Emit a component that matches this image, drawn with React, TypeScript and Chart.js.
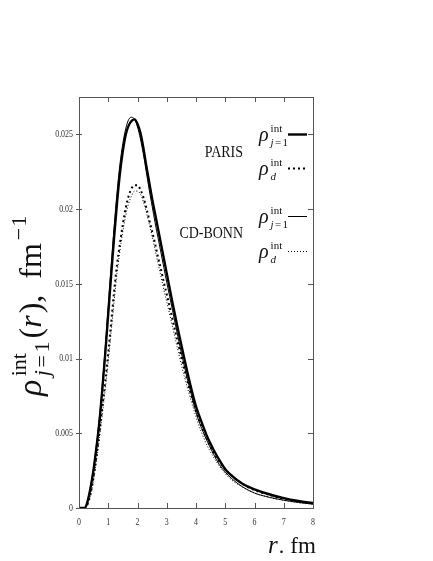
import React, { useEffect, useRef } from "react";
import { Chart, registerables } from "chart.js";

Chart.register(...registerables);

const rValues = [
  0, 0.1, 0.2, 0.3, 0.4, 0.5, 0.6, 0.7, 0.8, 0.9, 1.0, 1.1, 1.2, 1.3, 1.4, 1.5, 1.6, 1.7, 1.8, 1.9,
  2.0, 2.1, 2.2, 2.3, 2.4, 2.5, 2.6, 2.7, 2.8, 2.9, 3.0, 3.2, 3.4, 3.6, 3.8, 4.0, 4.2, 4.4, 4.6, 4.8,
  5.0, 5.2, 5.6, 6.0, 6.5, 7.0, 7.5, 8.0,
];

const parisJ1 = [
  0, 0, 0, 0.0005, 0.0014, 0.0026, 0.0041, 0.0058, 0.008, 0.0104, 0.013, 0.0156, 0.0181, 0.0204, 0.0224, 0.0239, 0.025, 0.0256, 0.0259, 0.026,
  0.0257, 0.0251, 0.0241, 0.0229, 0.0218, 0.0207, 0.0197, 0.0187, 0.0177, 0.0167, 0.0157, 0.0137, 0.0118, 0.01, 0.0083, 0.0068, 0.0057, 0.0047, 0.0039, 0.0032,
  0.0026, 0.0022, 0.0016, 0.00125, 0.00092, 0.00066, 0.00047, 0.00033,
];

const parisD = [
  0, 0, 0, 0.0003, 0.001, 0.0021, 0.0035, 0.0051, 0.0068, 0.0085, 0.0104, 0.0124, 0.0145, 0.0163, 0.0177, 0.019, 0.0201, 0.0209, 0.0214, 0.0216,
  0.0216, 0.0213, 0.0208, 0.0201, 0.0193, 0.0185, 0.0177, 0.0168, 0.016, 0.0151, 0.0143, 0.0126, 0.0109, 0.0093, 0.0078, 0.0065, 0.0054, 0.0045, 0.0037, 0.0031,
  0.0026, 0.0022, 0.0016, 0.0012, 0.00088, 0.00062, 0.00044, 0.0003,
];

const bonnJ1 = [
  0, 0, 0, 0.0005, 0.0015, 0.0027, 0.0043, 0.0061, 0.0083, 0.0108, 0.0135, 0.0162, 0.0188, 0.0211, 0.023, 0.0244, 0.0254, 0.026, 0.02615, 0.026,
  0.0255, 0.0247, 0.0237, 0.0225, 0.0213, 0.0202, 0.0191, 0.0181, 0.0171, 0.0161, 0.0151, 0.0132, 0.0113, 0.0095, 0.0079, 0.0064, 0.0053, 0.0044, 0.0036, 0.0029,
  0.0024, 0.002, 0.0014, 0.001, 0.00072, 0.00052, 0.00037, 0.00026,
];

const bonnD = [
  0, 0, 0, 0.0003, 0.0009, 0.0019, 0.0032, 0.0047, 0.0063, 0.008, 0.0098, 0.0118, 0.0138, 0.0157, 0.0172, 0.0185, 0.0196, 0.0204, 0.0209, 0.0212,
  0.0212, 0.021, 0.0205, 0.0198, 0.019, 0.0182, 0.0173, 0.0164, 0.0155, 0.0146, 0.0138, 0.0121, 0.0104, 0.0088, 0.0074, 0.0061, 0.005, 0.0041, 0.0034, 0.0028,
  0.0023, 0.0019, 0.0014, 0.001, 0.00072, 0.00051, 0.00036, 0.00025,
];

const xTicks = [0, 1, 2, 3, 4, 5, 6, 7, 8];
const xTickLabels = ["0", "1", "2", "3", "4", "5", "6", "7", "8"];
const yTicks = [0, 0.005, 0.01, 0.015, 0.02, 0.025];
const yTickLabels = ["0", "0.005", "0.01", "0.015", "0.02", "0.025"];

const groupNames = ["PARIS", "CD-BONN"];

const SERIF = "'Liberation Serif', 'DejaVu Serif', serif";

function toPoints(ys: number[]) {
  return rValues.map((x, i) => ({ x, y: ys[i] }));
}

function condensedText(ctx: CanvasRenderingContext2D, text: string, x: number, y: number, sx: number, align: CanvasTextAlign) {
  ctx.save();
  ctx.translate(x, y);
  ctx.scale(sx, 1);
  ctx.textAlign = align;
  ctx.fillText(text, 0, 0);
  ctx.restore();
}

// draws a sequence of text pieces; returns end x
function pieces(ctx: CanvasRenderingContext2D, x: number, y: number, parts: Array<[string, string, number]>) {
  let cx = x;
  parts.forEach(([t, font, gap]) => {
    ctx.font = font;
    ctx.fillText(t, cx, y);
    cx += ctx.measureText(t).width + gap;
  });
  return cx;
}

// rho with "int" superscript and a subscript; returns advance
function drawRho(ctx: CanvasRenderingContext2D, x: number, y: number, size: number, ss: number, sub: "j=1" | "d") {
  ctx.textAlign = "left";
  ctx.textBaseline = "alphabetic";
  ctx.font = `italic ${size}px ${SERIF}`;
  ctx.fillText("ρ", x, y);
  const w = ctx.measureText("ρ").width;
  const sx = x + w + size * 0.1;
  ctx.font = `${ss}px ${SERIF}`;
  ctx.fillText("int", sx, y - size * 0.45);
  const wInt = ctx.measureText("int").width;
  let endSub: number;
  if (sub === "j=1") {
    endSub = pieces(ctx, sx, y + size * 0.24, [
      ["j", `italic ${ss}px ${SERIF}`, ss * 0.12],
      ["=", `${ss}px ${SERIF}`, ss * 0.12],
      ["1", `${ss}px ${SERIF}`, 0],
    ]);
  } else {
    endSub = pieces(ctx, sx, y + size * 0.24, [["d", `italic ${ss}px ${SERIF}`, 0]]);
  }
  return Math.max(sx + wInt, endSub) - x;
}

const decorPlugin = {
  id: "decor",
  afterDraw(chart: any) {
    const ctx: CanvasRenderingContext2D = chart.ctx;
    const { left, right, top, bottom } = chart.chartArea;
    const xs = chart.scales.x;
    const ys = chart.scales.y;
    ctx.save();
    // frame
    ctx.strokeStyle = "#555";
    ctx.lineWidth = 1;
    ctx.strokeRect(Math.round(left) + 0.5, Math.round(top) + 0.5, Math.round(right - left), Math.round(bottom - top));
    // ticks
    ctx.beginPath();
    xTicks.forEach((v) => {
      const px = Math.round(xs.getPixelForValue(v)) + 0.5;
      ctx.moveTo(px, bottom);
      ctx.lineTo(px, bottom - 5);
      ctx.moveTo(px, top);
      ctx.lineTo(px, top + 5);
    });
    yTicks.forEach((v) => {
      const py = Math.round(ys.getPixelForValue(v)) + 0.5;
      ctx.moveTo(left - 3, py);
      ctx.lineTo(left + 3, py);
      ctx.moveTo(right, py);
      ctx.lineTo(right - 5, py);
    });
    ctx.stroke();
    // tick labels
    ctx.fillStyle = "#333";
    ctx.font = `11px ${SERIF}`;
    ctx.textBaseline = "middle";
    yTicks.forEach((v, i) => {
      condensedText(ctx, yTickLabels[i], left - 6, ys.getPixelForValue(v), 0.72, "right");
    });
    xTicks.forEach((v, i) => {
      condensedText(ctx, xTickLabels[i], xs.getPixelForValue(v), bottom + 14, 0.72, "center");
    });

    ctx.fillStyle = "#111";
    ctx.textBaseline = "alphabetic";
    // y-axis title (rotated)
    ctx.save();
    ctx.translate(41, 396);
    ctx.rotate(-Math.PI / 2);
    let cx = drawRho(ctx, 0, 0, 34, 22, "j=1") + 3;
    cx = pieces(ctx, cx, 0, [
      ["(", `32px ${SERIF}`, 0],
      ["r", `italic 32px ${SERIF}`, 2],
      [")", `32px ${SERIF}`, 0],
      [",", `32px ${SERIF}`, 16],
      ["fm", `32px ${SERIF}`, 3],
    ]);
    pieces(ctx, cx, -15, [
      ["−", `22px ${SERIF}`, 1],
      ["1", `22px ${SERIF}`, 0],
    ]);
    ctx.restore();

    // x-axis title
    ctx.textAlign = "left";
    pieces(ctx, 268, 553, [
      ["r", `italic 25px ${SERIF}`, 1],
      [".", `22px ${SERIF}`, 6],
      ["fm", `23px ${SERIF}`, 0],
    ]);

    // legend
    const sampleX0 = 288;
    const sampleX1 = 307;
    const groups = [
      { name: groupNames[0], nameY: 157, rows: [{ y: 134, ds: 0, sub: "j=1" }, { y: 168, ds: 1, sub: "d" }] },
      { name: groupNames[1], nameY: 238, rows: [{ y: 216, ds: 2, sub: "j=1" }, { y: 251, ds: 3, sub: "d" }] },
    ];
    groups.forEach((g) => {
      ctx.fillStyle = "#111";
      ctx.font = `17px ${SERIF}`;
      condensedText(ctx, g.name, 243, g.nameY, 0.82, "right");
      g.rows.forEach((row) => {
        ctx.fillStyle = "#111";
        drawRho(ctx, 259, row.y + 7, 20, 11, row.sub as any);
        const ds = chart.data.datasets[row.ds];
        ctx.save();
        ctx.strokeStyle = ds.borderColor;
        ctx.lineWidth = ds.borderWidth;
        ctx.setLineDash(ds.borderDash || []);
        ctx.beginPath();
        ctx.moveTo(sampleX0, row.y + 0.5);
        ctx.lineTo(sampleX1, row.y + 0.5);
        ctx.stroke();
        ctx.restore();
      });
    });
    ctx.restore();
  },
};

export default function App() {
  const canvasRef = useRef<HTMLCanvasElement | null>(null);

  useEffect(() => {
    if (!canvasRef.current) return;
    const chart = new Chart(canvasRef.current, {
      type: "line",
      data: {
        datasets: [
          { label: "PARIS j=1", data: toPoints(parisJ1), borderColor: "#000", borderWidth: 2.4, pointRadius: 0, cubicInterpolationMode: "monotone", fill: false },
          { label: "PARIS d", data: toPoints(parisD), borderColor: "#000", borderWidth: 2, borderDash: [2, 3], pointRadius: 0, cubicInterpolationMode: "monotone", fill: false },
          { label: "CD-BONN j=1", data: toPoints(bonnJ1), borderColor: "#000", borderWidth: 1, pointRadius: 0, cubicInterpolationMode: "monotone", fill: false },
          { label: "CD-BONN d", data: toPoints(bonnD), borderColor: "#000", borderWidth: 1, borderDash: [1, 2], pointRadius: 0, cubicInterpolationMode: "monotone", fill: false },
        ],
      },
      options: {
        responsive: false,
        animation: false,
        devicePixelRatio: 1,
        layout: { padding: { left: 0, top: 97, right: 120, bottom: 0 } },
        plugins: { legend: { display: false }, tooltip: { enabled: false } },
        scales: {
          x: {
            type: "linear",
            min: 0,
            max: 8,
            grid: { display: false },
            border: { display: false },
            ticks: { display: false },
            afterFit: (s: any) => { s.height = 53; },
          },
          y: {
            min: 0,
            max: 0.0275,
            grid: { display: false },
            border: { display: false },
            ticks: { display: false },
            afterFit: (s: any) => { s.width = 79; },
          },
        },
      },
      plugins: [decorPlugin],
    } as any);
    return () => chart.destroy();
  }, []);

  return (
    <div style={{ position: "absolute", left: 0, top: 0, width: 433, height: 561, background: "#fff" }}>
      <canvas ref={canvasRef} width={433} height={561} style={{ display: "block" }} />
    </div>
  );
}
